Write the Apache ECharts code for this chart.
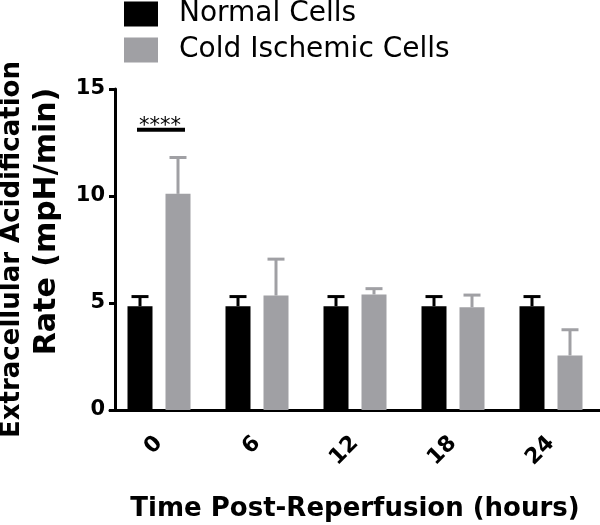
<!DOCTYPE html>
<html>
<head>
<meta charset="utf-8">
<script src="https://cdn.jsdelivr.net/npm/echarts@6/dist/echarts.min.js"></script>
<style>
  html, body { margin: 0; padding: 0; background: #fff; }
  #chart { width: 600px; height: 525px; }
</style>
</head>
<body>
<div id="chart"></div>
<script>
// data
var categories = ['0', '6', '12', '18', '24'];
var seriesNames = ['Normal Cells', 'Cold Ischemic Cells'];
var normalMean = [4.85, 4.85, 4.85, 4.85, 4.85];
var normalSD = [0.45, 0.45, 0.45, 0.45, 0.45];
var coldMean = [10.1, 5.35, 5.4, 4.8, 2.55];
var coldSD = [1.7, 1.7, 0.27, 0.57, 1.2];
var yTicks = [0, 5, 10, 15];
var sigMark = { category: 0, value: 13.1, text: '****' };

var BLACK = '#000000';
var GREY = '#a0a0a4';
var BAR_OFFSET = 19; // half distance between paired bar centers

function errData(mean, sd) {
    return mean.map(function (m, i) { return [i, m, m + sd[i]]; });
}

function errRender(offset, color) {
    return function (params, api) {
        var base = api.coord([api.value(0), api.value(1)]);
        var top = api.coord([api.value(0), api.value(2)]);
        var cx = base[0] + offset;
        return {
            type: 'group',
            children: [
                { type: 'line', shape: { x1: cx, y1: base[1], x2: cx, y2: top[1] }, style: { stroke: color, lineWidth: 3 } },
                { type: 'line', shape: { x1: cx - 8.5, y1: top[1], x2: cx + 8.5, y2: top[1] }, style: { stroke: color, lineWidth: 3 } }
            ]
        };
    };
}

var myChart = echarts.init(document.getElementById('chart'));
var boldFont = 'DejaVu Sans';

var option = {
    animation: false,
    backgroundColor: '#fff',
    legend: {
        orient: 'vertical',
        left: 124,
        top: 0,
        padding: 0,
        itemWidth: 34,
        itemHeight: 25,
        itemGap: 8,
        icon: 'rect',
        data: seriesNames,
        textStyle: { fontFamily: 'DejaVu Sans', fontSize: 28, color: '#000', padding: [0, 0, 0, 16] }
    },
    grid: { left: 110, right: 0, top: 89, bottom: 115, outerBoundsMode: 'none', containLabel: false },
    xAxis: {
        type: 'category',
        data: categories,
        name: 'Time Post-Reperfusion (hours)',
        nameLocation: 'middle',
        nameGap: 86,
        nameTextStyle: { fontFamily: boldFont, fontWeight: 'bold', fontSize: 26, color: '#000' },
        axisLine: { lineStyle: { color: '#000', width: 3 } },
        axisTick: { alignWithLabel: true, length: 8, lineStyle: { color: '#000', width: 3 } },
        axisLabel: { rotate: 45, margin: 30, fontFamily: boldFont, fontWeight: 'bold', fontSize: 22, color: '#000' }
    },
    yAxis: {
        type: 'value',
        min: yTicks[0],
        max: yTicks[yTicks.length - 1],
        interval: 5,
        offset: -5,
        name: '{a|Extracellular Acidification}\n{b|Rate (mpH/min)}',
        nameLocation: 'middle',
        nameGap: 43,
        nameTextStyle: {
            fontFamily: boldFont, fontWeight: 'bold', fontSize: 26, color: '#000', lineHeight: 34,
            rich: {
                a: { fontFamily: boldFont, fontWeight: 'bold', fontSize: 26, color: '#000', lineHeight: 34 },
                b: { fontFamily: boldFont, fontWeight: 'bold', fontSize: 30, color: '#000', lineHeight: 36, padding: [0, 0, 0, 56] }
            }
        },
        splitLine: { show: false },
        axisLine: { show: true, lineStyle: { color: '#000', width: 3 } },
        axisTick: { show: true, length: 6, lineStyle: { color: '#000', width: 3 } },
        axisLabel: { margin: 10, fontFamily: boldFont, fontWeight: 'bold', fontSize: 21, color: '#000' }
    },
    series: [
        {
            name: seriesNames[0],
            type: 'bar',
            data: normalMean,
            barWidth: 25,
            barGap: '52%',
            itemStyle: { color: BLACK }
        },
        {
            name: seriesNames[1],
            type: 'bar',
            data: coldMean,
            barWidth: 25,
            itemStyle: { color: GREY }
        },
        {
            type: 'custom',
            data: errData(normalMean, normalSD),
            encode: { x: 0, y: [1, 2] },
            renderItem: errRender(-BAR_OFFSET, BLACK),
            z: 3
        },
        {
            type: 'custom',
            data: errData(coldMean, coldSD),
            encode: { x: 0, y: [1, 2] },
            renderItem: errRender(BAR_OFFSET, GREY),
            z: 3
        },
        {
            type: 'custom',
            data: [[sigMark.category, sigMark.value]],
            encode: { x: 0, y: 1 },
            renderItem: function (params, api) {
                var p = api.coord([api.value(0), api.value(1)]);
                return {
                    type: 'group',
                    children: [
                        { type: 'line', shape: { x1: p[0] - 22, y1: p[1], x2: p[0] + 26, y2: p[1] }, style: { stroke: '#000', lineWidth: 4 } },
                        { type: 'text', style: { text: sigMark.text, x: p[0] + 1, y: p[1] + 7, align: 'center', verticalAlign: 'bottom', font: '21px "DejaVu Sans"', fill: '#000' } }
                    ]
                };
            },
            z: 4
        }
    ]
};

myChart.setOption(option);
window.addEventListener('resize', function () { myChart.resize(); });
</script>
</body>
</html>
